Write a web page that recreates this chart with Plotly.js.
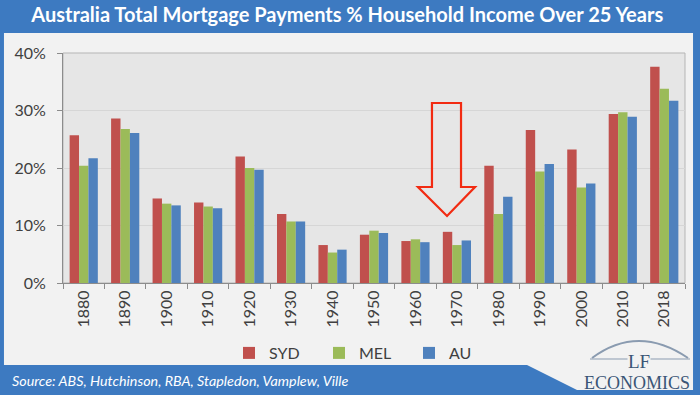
<!DOCTYPE html>
<html>
<head>
<meta charset="utf-8">
<script src="https://cdn.plot.ly/plotly-3.0.1.min.js"></script>
<style>html,body{margin:0;padding:0;background:#3D7AC1;}#chart{width:700px;height:395px;}</style>
</head>
<body>
<div id="chart"></div>
<script>
const years = ['1880','1890','1900','1910','1920','1930','1940','1950','1960','1970','1980','1990','2000','2010','2018'];
const syd = [25.7, 28.6, 14.7, 14.0, 22.0, 12.0, 6.6, 8.4, 7.3, 8.9, 20.4, 26.6, 23.2, 29.4, 37.6];
const mel = [20.4, 26.8, 13.8, 13.3, 20.0, 10.7, 5.3, 9.1, 7.6, 6.6, 12.0, 19.4, 16.6, 29.7, 33.8];
const au  = [21.7, 26.1, 13.5, 13.0, 19.7, 10.7, 5.8, 8.7, 7.1, 7.4, 15.0, 20.7, 17.3, 28.9, 31.7];
const seriesNames = ['SYD', 'MEL', 'AU'];

const W = 700, H = 395, L = 63, R = 15, T = 53, B = 112;
const X = px => (px - L) / (W - L - R);
const Y = py => (H - B - py) / (H - T - B);
const pt = (px, py) => X(px).toFixed(4) + ',' + Y(py).toFixed(4);

const colors = ['#C0504D', '#9BBB59', '#4F81BD'];
const traces = [syd, mel, au].map((vals, i) => ({
  type: 'bar', x: years, y: vals, name: seriesNames[i],
  marker: {color: colors[i], line: {width: 0}},
  hoverinfo: 'skip'
}));

const font = 'Lato, "Open Sans", sans-serif';
const layout = {
  width: W, height: H,
  margin: {l: L, r: R, t: T, b: B, pad: 0},
  paper_bgcolor: '#3D7AC1',
  plot_bgcolor: 'rgba(0,0,0,0)',
  barmode: 'group', bargap: 0.32, bargroupgap: 0,
  title: {text: '<b>Australia Total Mortgage Payments % Household Income Over 25 Years</b>',
          font: {family: font, size: 20, color: '#FFFFFF'},
          x: 0.496, xanchor: 'center', y: 1 - 15 / H, yanchor: 'middle'},
  xaxis: {type: 'category', tickangle: -90, ticks: 'outside', tickson: 'boundaries',
          ticklen: 5, tickcolor: '#8C8C8C', showline: true, linecolor: '#8C8C8C', mirror: false,
          tickfont: {family: font, size: 16, color: '#404040'}, showgrid: false},
  yaxis: {range: [0, 40], dtick: 10, ticksuffix: '%', ticks: 'outside', ticklen: 5,
          tickcolor: '#8C8C8C', showline: true, linecolor: '#8C8C8C',
          gridcolor: '#D6D6D6', gridwidth: 1, zeroline: false, ticklabelstandoff: 8,
          tickfont: {family: font, size: 16, color: '#404040'}},
  legend: {orientation: 'h', x: X(229), xanchor: 'left', y: Y(353), yanchor: 'middle',
           entrywidth: 45, entrywidthmode: 'pixels',
           font: {family: font, size: 16, color: '#404040'}, bgcolor: 'rgba(0,0,0,0)',
           itemclick: false, tracegroupgap: 0},
  shapes: [
    // light panel
    {type: 'path', xref: 'paper', yref: 'paper', layer: 'below',
     path: 'M' + pt(4, 33) + ' L' + pt(693, 33) + ' L' + pt(693, 390) + ' L' + pt(577, 390) +
           ' L' + pt(527, 365) + ' L' + pt(4, 365) + ' Z',
     fillcolor: '#F2F2F2', line: {width: 0}},
    // plot area background
    {type: 'rect', xref: 'paper', yref: 'paper', layer: 'below', x0: 0, x1: 1, y0: 0, y1: 1,
     fillcolor: '#E6E6E6', line: {color: '#B5B5B5', width: 1}},
    // red arrow
    {type: 'path', xref: 'paper', yref: 'paper', layer: 'above',
     path: 'M' + pt(432, 103) + ' L' + pt(461, 103) + ' L' + pt(461, 187) + ' L' + pt(475, 187) +
           ' L' + pt(447, 216) + ' L' + pt(418, 187) + ' L' + pt(432, 187) + ' Z',
     fillcolor: 'rgba(0,0,0,0)', line: {color: '#F22B12', width: 2.2}},
    // logo arc
    {type: 'path', xref: 'paper', yref: 'paper', layer: 'above',
     path: 'M' + pt(592, 358) + ' Q' + pt(638, 324) + ' ' + pt(688, 358),
     fillcolor: 'rgba(0,0,0,0)', line: {color: '#8A9BB0', width: 2}},
    {type: 'line', xref: 'paper', yref: 'paper', layer: 'above',
     x0: X(590), x1: X(690), y0: Y(359), y1: Y(359), line: {color: '#8A9BB0', width: 1}}
  ],
  annotations: [
    {text: 'Source: ABS, Hutchinson, RBA, Stapledon, Vamplew, Ville', xref: 'paper', yref: 'paper',
     x: X(10), y: Y(380), xanchor: 'left', yanchor: 'middle', showarrow: false,
     font: {family: font, size: 14.3, color: '#FFFFFF', style: 'italic'}},
    {text: 'LF', xref: 'paper', yref: 'paper', x: X(639), y: Y(361), xanchor: 'center', yanchor: 'middle',
     showarrow: false, bgcolor: '#F2F2F2', borderpad: 0,
     font: {family: '"Liberation Serif", serif', size: 19, color: '#3A5576'}},
    {text: 'ECONOMICS', xref: 'paper', yref: 'paper', x: X(637), y: Y(383), xanchor: 'center', yanchor: 'middle',
     showarrow: false, font: {family: '"Liberation Serif", serif', size: 18, color: '#3A5576'}}
  ]
};

Plotly.newPlot('chart', traces, layout, {displayModeBar: false, staticPlot: true});
</script>
</body>
</html>
